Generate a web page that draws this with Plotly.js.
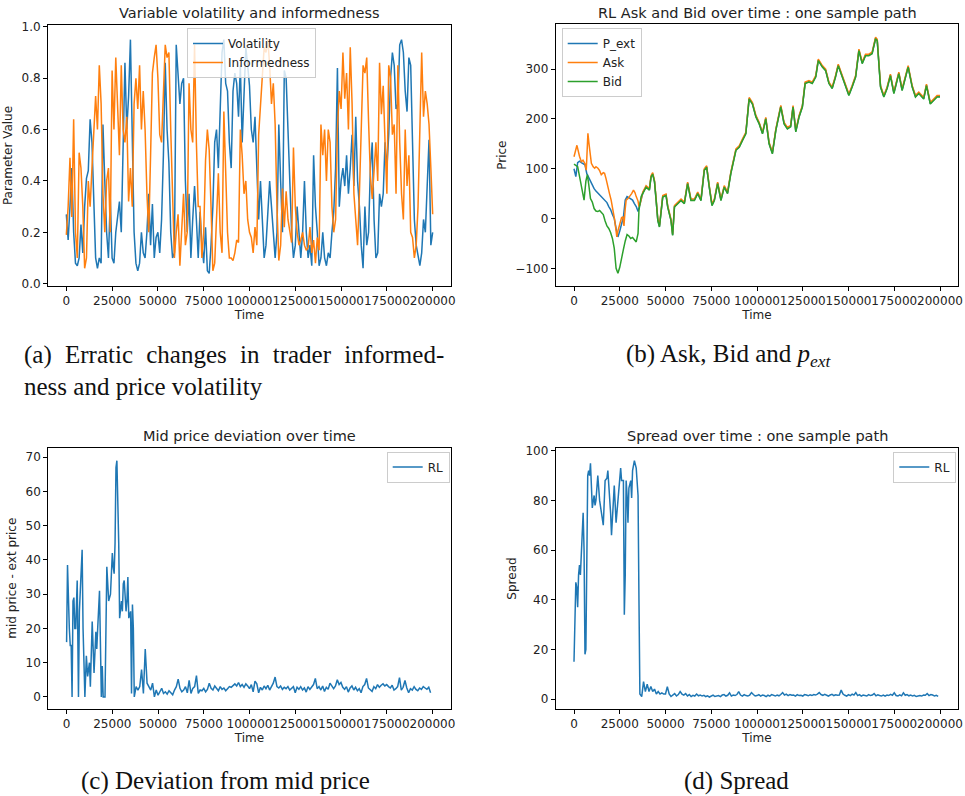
<!DOCTYPE html>
<html>
<head>
<meta charset="utf-8">
<script src="https://cdn.plot.ly/plotly-3.0.1.min.js"></script>
<style>
html,body{margin:0;padding:0;background:#fff;}
#chart{width:965px;height:796px;}
g.annotation[data-index="4"] text{word-spacing:7px;}
</style>
</head>
<body>
<div id="chart"></div>
<script>
// ---------- Panel (a): volatility & informedness, sampled every 1000 time steps ----------
const paramTimeStep = 1000;
const volatility = [
 0.27,0.17,0.3,0.45,0.2,0.08,0.07,0.1,0.23,0.12,
 0.3,0.41,0.44,0.64,0.55,0.35,0.1,0.06,0.1,0.08,
 0.62,0.4,0.2,0.1,0.33,0.1,0.08,0.2,0.25,0.32,
 0.2,0.6,0.86,0.6,0.73,0.95,0.62,0.2,0.08,0.05,
 0.08,0.2,0.12,0.1,0.2,0.35,0.15,0.31,0.1,0.18,
 0.2,0.12,0.25,0.5,0.86,0.6,0.47,0.2,0.1,0.12,
 0.93,0.8,0.7,0.78,0.8,0.4,0.2,0.35,0.1,0.25,
 0.38,0.25,0.1,0.28,0.15,0.08,0.22,0.05,0.04,0.15,
 0.3,0.55,0.6,0.45,0.65,0.9,0.95,0.78,0.75,0.55,
 0.45,0.75,0.82,0.78,0.65,0.85,0.55,0.75,0.92,0.85,
 0.77,0.6,0.55,0.65,0.4,0.25,0.4,0.27,0.1,0.15,
 0.3,0.4,0.3,0.2,0.1,0.2,0.62,0.4,0.2,0.83,
 0.8,0.6,0.35,0.2,0.1,0.15,0.3,0.18,0.1,0.2,
 0.4,0.2,0.1,0.15,0.07,0.5,0.3,0.2,0.07,0.1,
 0.2,0.1,0.07,0.12,0.1,0.2,0.28,0.45,0.84,0.3,
 0.4,0.45,0.38,0.5,0.35,0.45,0.58,0.38,0.65,0.4,
 0.3,0.15,0.06,0.3,0.15,0.2,0.45,0.55,0.25,0.1,
 0.12,0.35,0.3,0.35,0.55,0.45,0.58,0.8,0.9,0.85,
 0.68,0.7,0.93,0.95,0.9,0.75,0.67,0.88,0.85,0.55,
 0.25,0.15,0.1,0.07,0.12,0.25,0.2,0.38,0.56,0.15,
 0.2];
const informedness = [
 0.19,0.3,0.49,0.26,0.64,0.2,0.1,0.51,0.45,0.3,
 0.06,0.1,0.4,0.3,0.45,0.6,0.73,0.6,0.85,0.7,
 0.35,0.2,0.4,0.45,0.2,0.83,0.6,0.88,0.7,0.5,
 0.85,0.6,0.55,0.65,0.32,0.45,0.3,0.7,0.8,0.68,
 0.85,0.6,0.75,0.6,0.35,0.2,0.5,0.82,0.88,0.93,
 0.8,0.58,0.55,0.75,0.93,0.88,0.9,0.6,0.33,0.1,
 0.2,0.27,0.07,0.2,0.35,0.15,0.2,0.78,0.6,0.55,
 0.93,0.55,0.3,0.3,0.1,0.2,0.48,0.6,0.52,0.3,
 0.05,0.08,0.3,0.43,0.2,0.12,0.67,0.45,0.2,0.1,
 0.1,0.09,0.12,0.17,0.16,0.6,0.5,0.35,0.4,0.25,
 0.2,0.18,0.12,0.22,0.15,0.58,0.7,0.82,0.92,0.9,
 0.95,0.85,0.7,0.78,0.62,0.3,0.09,0.15,0.37,0.22,
 0.36,0.25,0.2,0.16,0.53,0.3,0.2,0.15,0.17,0.2,
 0.15,0.13,0.14,0.22,0.12,0.17,0.08,0.18,0.13,0.62,
 0.5,0.6,0.4,0.6,0.55,0.3,0.2,0.25,0.6,0.75,
 0.68,0.9,0.72,0.82,0.6,0.92,0.7,0.35,0.25,0.15,
 0.35,0.6,0.85,0.82,0.88,0.63,0.42,0.33,0.46,0.55,
 0.4,0.86,0.66,0.77,0.55,0.35,0.85,0.8,0.58,0.62,
 0.35,0.85,0.55,0.35,0.25,0.6,0.38,0.5,0.2,0.18,
 0.1,0.15,0.3,0.62,0.9,0.65,0.75,0.7,0.62,0.45,
 0.27];

// ---------- Panel (b): P_ext, Ask, Bid ----------
const pextEarlyT = [0,1000,2000,3000,4000,5000,6000,7000,8000,9000,10000,11000,12000,13000,14000,15000,16000,17000,18000,19000,20000,21000,22000,23000,24000,25000,26000,27000,28000,29000,30000,31000,32000,33000,34000,35000,36000];
const pextEarly  = [100,84,112,115,112,110,108,90,82,75,65,60,55,51,47,45,40,37,32,24,18,8,0,-20,-37,-25,-10,3,37,44,42,40,37,30,24,14,30];
const askEarlyT  = [0,1000,1600,3000,4000,4900,6000,6700,7600,8200,9000,9500,10500,11300,12000,13100,14000,14900,16000,16700,17500,18500,19400,20300,21200,22100,23000,23400,24000,24900,26000,26700,27300,28000,28500,29500,30400,31500,32500,33300,34000,35000,35500,36200];
const askEarly   = [124,138,147,125,114,117,110,97,171,150,120,111,104,101,104,101,96,88,92,91,80,61,50,37,20,0,-25,-37,-25,-10,2,3,-15,20,37,40,44,50,57,52,44,35,24,30];
const bidEarlyT  = [0,1000,2000,3000,4000,5000,5500,6500,7300,8000,9000,10000,11000,12000,13000,14000,15000,16000,17000,18000,19000,20000,21000,22000,23000,24000,25000,26000,27000,28000,29000,30000,31000,32000,33000,34000,35000,35500,36700];
const bidEarly   = [109,106,104,85,62,45,37,75,88,70,40,33,20,15,14,16,12,8,-5,-15,-20,-28,-40,-60,-100,-110,-98,-83,-62,-45,-32,-35,-40,-38,-42,-47,-30,17,44];
const lateT = [37600,39400,41200,42100,43000,44000,44900,45800,46700,47600,48500,50300,51200,53000,53900,54900,56700,58500,60300,62100,63900,65800,67600,69400,71200,72500,73900,75400,76700,78500,80300,82100,83900,85700,88500,90300,92100,93900,95700,97500,99400,101200,103000,104800,106600,108400,110300,113000,114800,116600,118400,119700,121200,123000,124800,126300,128400,130200,132100,133500,135700,137500,139300,141100,142900,144400,146600,148400,150200,152000,153900,155700,157500,159300,161100,162900,164800,165700,167500,169300,171100,172900,174800,177500,179300,182600,184800,186600,188400,191100,192600,194700,196600,198400,200000];
const pextLate = [51,64,58,84,90,74,37,-3,-16,11,44,47,24,-3,-33,24,31,37,31,71,37,37,51,37,98,104,64,27,37,71,37,64,51,91,138,144,158,171,241,231,205,191,171,201,151,131,178,225,191,181,185,225,175,205,225,272,275,272,285,318,305,298,272,262,285,308,285,265,248,265,285,338,312,328,328,332,362,358,265,245,262,288,252,292,258,305,265,245,252,241,268,231,238,245,245];
const askLate  = [53,66,60,86,92,76,39,-1,-14,13,46,49,26,-1,-31,26,33,39,33,73,39,39,53,39,100,106,66,29,39,73,39,66,53,93,140,146,160,173,243,233,207,193,173,203,153,133,180,227,193,183,187,227,177,207,227,274,277,274,287,320,307,300,274,264,287,310,287,267,250,267,287,340,314,330,330,334,364,360,267,247,264,290,254,294,260,307,267,247,254,243,270,233,240,247,247];
const bidLate  = [50,63,57,83,89,73,36,-4,-17,10,43,46,23,-4,-34,23,30,36,30,70,36,36,50,36,97,103,63,26,36,70,36,63,50,90,137,143,157,170,240,230,204,190,170,200,150,130,177,224,190,180,184,224,174,204,224,271,274,271,284,317,304,297,271,261,284,307,284,264,247,264,284,337,311,327,327,331,361,357,264,244,261,287,251,291,257,304,264,244,251,240,267,230,237,244,244];

// ---------- Panel (c): mid price deviation ----------
const devEarlyT = [0,500,1500,2000,2500,3000,3500,4000,4500,5000,5800,6500,7000,8000,8500,9000,10000,10800,11500,12500,13000,14000,15000,16000,16500,17000,18000,19000,19500,20000,21000,22000,22500,23000,24000,25000,25500,26000,26500,27000,27500,28000,28500,29000,30000,30500,31000,31500,32000,32500,33000,33500,34000,35000,35500,36000,36500,37000,38000,39000,40000,41000,42000,43000,44000,45000,46000,47000,48000,49000];
const devEarly  = [16,38.5,20,15,15,0,28,29,20,20,34,0,25,40,43,20,0,12,6,10,3,22,7,19,14,20,31,0,9,0,0,38,30,28,30,42,38,36,45,67,69,58,45,23,28,25,33,34,30,25,28,35,23,25,1,27,20,0,3,2,3,8,1,14,4,3,2,4,0,2];
const devTailStart = 50000, devTailStep = 1000;
const devTail = [
 0.5,1.5,2.5,1,1.5,0.8,1.8,1.2,0.6,2,
 3,5.2,2.5,1.5,2,3,1.2,4.8,1,2.5,
 3,6.2,1,2,1.8,2.5,1.5,2.2,4,2.5,
 2,3.2,2.4,1.8,3,2.2,2.6,1.8,2.4,3,
 2.8,3.4,3.8,3.2,4.2,3,3.6,2.8,3.8,3.2,
 2.4,3.6,1.5,4.6,3.8,1.2,2.8,2,3.2,2.4,
 3.4,2,3,4,5.8,3,2.6,3.2,2.2,2.8,
 2.4,3,2,2.6,3,1.2,2.8,2.2,3,2,
 2.6,1.4,3,2.2,2.8,3.6,5.4,2.4,3,2,
 3.2,1.6,2.8,2.2,4,3,2.4,3.2,5,3.6,
 4.2,2.8,2.2,3,1.4,2.6,3.2,2,2.8,1.8,
 2.4,1.2,3,3.6,5.4,2.6,2,1.6,3,2.4,
 3.6,2.8,3.4,3.8,3.2,3.6,3,2.6,3.4,2,
 2.4,3,5.6,2,2.8,4.8,2.6,1.2,2.4,2,
 3,2.2,1.8,2.6,2.2,3,2.6,2.2,2.8,1.2];

// ---------- Panel (d): spread ----------
const sprEarlyT = [0,500,1000,1500,2000,2500,3000,3500,4000,4500,5000,5500,6000,6500,7000,7500,8000,8500,9000,9500,10000,11000,11500,12000,13000,14000,15000,16000,17000,18000,18500,19000,20000,20500,21000,22000,23000,24000,25000,25500,26000,27000,27500,28000,28500,29000,29500,30000,31000,31500,32000,33000,34000,35000,35500,36000,37000,38000,39000,40000,41000,42000,43000,44000,45000,46000,47000,48000,49000,50000,51000,52000,53000];
const sprEarly  = [15,35,47,45,37,50,54,50,58,72,75,60,18,20,50,90,92,90,95,88,77,82,78,80,90,80,75,70,88,89,92,87,75,66,75,86,71,80,88,93,88,88,34,50,88,82,71,85,88,81,92,96,93,82,40,2,1,7,3,6,3,5,3,4,2,3,2,2.5,2,2,5,2,1];
const sprTailStart = 54000, sprTailStep = 1000;
const sprTail = [
 1.5,2.2,1.2,1.8,3,2,
 1.6,2.2,1.2,1.8,1,1.5,1.2,2,1.3,1.6,
 1.2,1.5,1,1.3,0.8,1.2,1.6,1,1.2,1.4,
 1,1.6,1.8,1.2,1.5,2.5,1.2,1.6,1.4,1.8,
 3,1.6,1.2,1.8,1.4,1.2,1.6,2.6,1.8,1.2,
 1.4,1.8,1.2,1.6,1.4,1,1.6,1.2,1.8,1.4,
 1.2,1.6,1.3,1.8,2.6,1.6,2,1.4,1.8,1.5,
 1.6,1.2,1.8,1.4,1.5,1.2,1.8,1.6,1.3,1.7,
 1.4,1.8,1.6,2,2.6,1.8,1.5,1.9,1.4,1.2,
 1.6,1.9,1.4,1.7,1.5,1.6,3.6,2,1.5,1.2,
 1.8,1.4,2,1.6,2.6,1.4,1.8,1.2,1.6,1.4,
 1.2,1.8,1.4,1.6,2.2,1.3,1.7,1.4,1.2,1.6,
 1.2,1.6,1.4,1.9,1.5,2.5,1.4,1.2,1.7,1.3,
 2.5,1.5,1.8,1.3,1.6,1.2,1.5,1,1.2,1.4,
 1.2,1.6,1.5,2.2,1.4,1.8,1.6,1.2,1.5,1.1];

// ---------- labels ----------
const timeTicks = [0,25000,50000,75000,100000,125000,150000,175000,200000];
const timeTickText = ['0','25000','50000','75000','100000','125000','150000','175000','200000'];
const panelTitles = ['Variable volatility and informedness','RL Ask and Bid over time : one sample path','Mid price deviation over time','Spread over time : one sample path'];
const yTitles = ['Parameter Value','Price','mid price - ext price','Spread'];
const captions = ['(a) Erratic changes in trader informed-','ness and price volatility','(b) Ask, Bid and <i>p</i><sub><i>ext</i></sub>','(c) Deviation from mid price','(d) Spread'];

// ---------- helpers ----------
function grid(start, step, n){ const a=[]; for(let i=0;i<n;i++) a.push(start+i*step); return a; }

const C0='#1f77b4', C1='#ff7f0e', C2='#2ca02c';
const LW=1.5;
const paramT = grid(0, paramTimeStep, volatility.length);

const traces = [
 {x:paramT, y:volatility, name:'Volatility', type:'scatter', mode:'lines', line:{color:C0,width:LW}, xaxis:'x', yaxis:'y', legend:'legend'},
 {x:paramT, y:informedness, name:'Informedness', type:'scatter', mode:'lines', line:{color:C1,width:LW}, xaxis:'x', yaxis:'y', legend:'legend'},
 {x:pextEarlyT.concat(lateT), y:pextEarly.concat(pextLate), name:'P_ext', type:'scatter', mode:'lines', line:{color:C0,width:LW}, xaxis:'x2', yaxis:'y2', legend:'legend2'},
 {x:askEarlyT.concat(lateT), y:askEarly.concat(askLate), name:'Ask', type:'scatter', mode:'lines', line:{color:C1,width:LW}, xaxis:'x2', yaxis:'y2', legend:'legend2'},
 {x:bidEarlyT.concat(lateT), y:bidEarly.concat(bidLate), name:'Bid', type:'scatter', mode:'lines', line:{color:C2,width:LW}, xaxis:'x2', yaxis:'y2', legend:'legend2'},
 {x:devEarlyT.concat(grid(devTailStart,devTailStep,devTail.length)), y:devEarly.concat(devTail), name:'RL', type:'scatter', mode:'lines', line:{color:C0,width:LW}, xaxis:'x3', yaxis:'y3', legend:'legend3'},
 {x:sprEarlyT.concat(grid(sprTailStart,sprTailStep,sprTail.length)), y:sprEarly.concat(sprTail), name:'RL', type:'scatter', mode:'lines', line:{color:C0,width:LW}, xaxis:'x4', yaxis:'y4', legend:'legend4'}
];

const W=965, H=796;
const FONT='DejaVu Sans, sans-serif';
const TXT='#222';
const SERIF='Liberation Serif, serif';
function px(x){return x/W;} function py(y){return 1-y/H;}

function xax(l,r,anchor){
 return {domain:[px(l),px(r)], anchor:anchor, range:[-10000,210000], tickvals:timeTicks, ticktext:timeTickText, tickangle:0,
  showgrid:false, zeroline:false, showline:true, mirror:true, linecolor:'#000', linewidth:1,
  ticks:'outside', ticklen:4, tickwidth:1, tickcolor:'#000', tickfont:{family:FONT,size:12,color:TXT},
  title:{text:'Time', font:{family:FONT,size:12,color:TXT}, standoff:1}};
}
function yax(t,b,anchor,range,tv,tt,title){
 return {domain:[py(b),py(t)], anchor:anchor, range:range, tickvals:tv, ticktext:tt,
  showgrid:false, zeroline:false, showline:true, mirror:true, linecolor:'#000', linewidth:1,
  ticks:'outside', ticklen:4, tickwidth:1, tickcolor:'#000', tickfont:{family:FONT,size:12,color:TXT},
  title:{text:title, font:{family:FONT,size:12,color:TXT}, standoff:6}};
}
function leg(x,y){
 return {x:px(x), y:py(y), xanchor:'left', yanchor:'top', bgcolor:'rgba(255,255,255,0.8)', bordercolor:'#cccccc', borderwidth:1,
  font:{family:FONT,size:12,color:TXT}, itemwidth:30, tracegroupgap:0};
}
function ann(text,x,y,xanchor,font){
 return {text:text, x:px(x), y:py(y), xref:'paper', yref:'paper', xanchor:xanchor, yanchor:'middle', align:'left', showarrow:false, font:font};
}
const titleFont = {family:FONT,size:14.5,color:TXT};
const capFont = {family:SERIF,size:25,color:'#111'};

const layout = {
 width:W, height:H, margin:{l:0,r:0,t:0,b:0}, paper_bgcolor:'#fff', plot_bgcolor:'#fff', showlegend:true,
 xaxis: xax(48,451,'y'),
 yaxis: yax(25,286,'x',[-0.009,1.007],[0,0.2,0.4,0.6,0.8,1.0],['0.0','0.2','0.4','0.6','0.8','1.0'],yTitles[0]),
 xaxis2: xax(555.7,958.3,'y2'),
 yaxis2: yax(24.3,286,'x2',[-135.5,390],[-100,0,100,200,300],['\u2212100','0','100','200','300'],yTitles[1]),
 xaxis3: xax(48.3,450.7,'y3'),
 yaxis3: yax(447.7,708.7,'x3',[-3.45,72.8],[0,10,20,30,40,50,60,70],['0','10','20','30','40','50','60','70'],yTitles[2]),
 xaxis4: xax(555.7,958.3,'y4'),
 yaxis4: yax(448.3,708.7,'x4',[-3.9,101],[0,20,40,60,80,100],['0','20','40','60','80','100'],yTitles[3]),
 legend: leg(187,28),
 legend2: leg(561.7,28),
 legend3: leg(386.7,451.5),
 legend4: leg(893.3,451.5),
 annotations: [
  ann(panelTitles[0],249.5,13,'center',titleFont),
  ann(panelTitles[1],757,13,'center',titleFont),
  ann(panelTitles[2],249.5,436,'center',titleFont),
  ann(panelTitles[3],757,436,'center',titleFont),
  ann(captions[0],22,355,'left',capFont),
  ann(captions[1],22,386,'left',capFont),
  ann(captions[2],624,355,'left',capFont),
  ann(captions[3],79,781,'left',capFont),
  ann(captions[4],682,781,'left',capFont)
 ]
};

Plotly.newPlot('chart', traces, layout, {displayModeBar:false, staticPlot:true});
</script>
</body>
</html>
